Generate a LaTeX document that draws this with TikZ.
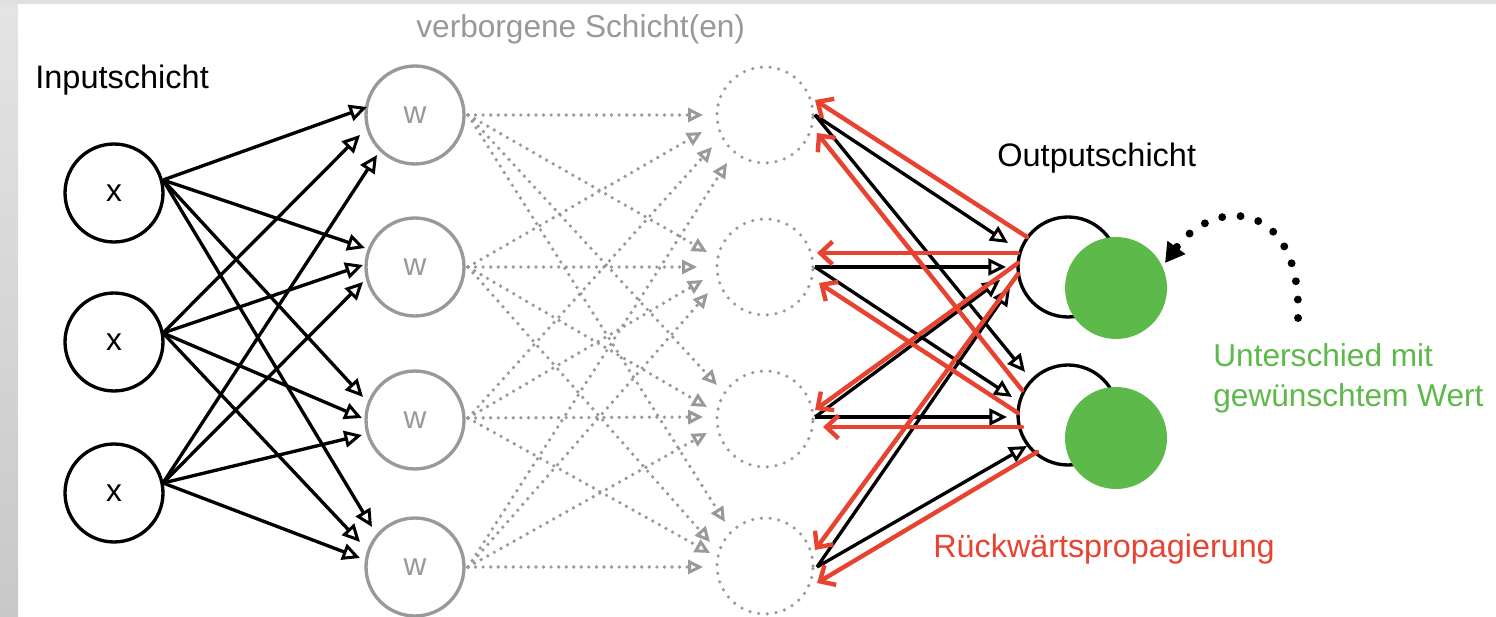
\documentclass[tikz,border=0pt]{standalone}
\usepackage{fontspec}
\setmainfont{Liberation Sans}
\usetikzlibrary{arrows.meta}

\definecolor{redcol}{HTML}{E84330}
\definecolor{greencol}{HTML}{5DB94A}
\definecolor{graycol}{HTML}{999999}

\tikzset{
  lbl/.style={font=\fontsize{18.5}{21}\selectfont, inner sep=0pt, anchor=base west},
  inp/.style={circle, draw=black, line width=1.9pt, minimum size=1.96cm, inner sep=0pt,
              font=\fontsize{18}{20}\selectfont},
  hidw/.style={circle, draw=graycol, text=graycol, line width=1.9pt, minimum size=1.96cm,
               inner sep=0pt, font=\fontsize{18}{20}\selectfont},
  hidd/.style={circle, draw=graycol, line width=2pt, line cap=round,
               dash pattern=on 0pt off 5pt, minimum size=1.92cm, inner sep=0pt},
  outc/.style={circle, draw=black, line width=1.9pt, minimum size=2cm, inner sep=0pt},
  goal/.style={circle, fill=greencol, minimum size=2.04cm, inner sep=0pt},
  fwd/.style={draw=black, line width=1.9pt,
              -{Triangle[open, length=10pt, width=9.5pt, line width=1.7pt]}},
  hid/.style={draw=graycol, line width=2.1pt, line cap=round, dash pattern=on 0pt off 4.3pt,
              -{Triangle[open, length=8.5pt, width=8pt, line width=1.7pt]}},
  back/.style={draw=redcol, line width=2.5pt, line cap=round,
               -{Straight Barb[length=7pt, width=13pt, line width=2.5pt]}},
  diff/.style={draw=black, line width=4.5pt, line cap=round, dash pattern=on 0pt off 10.5pt,
               -{Triangle[length=11pt, width=12pt]}}
}

\begin{document}
\begin{tikzpicture}[x=0.02cm, y=-0.02cm]
  % page and frame
  \useasboundingbox (0,0) rectangle (1496,617);
  \fill[white] (0,0) rectangle (1496,617);
  \shade[top color=gray!21, bottom color=gray!43] (0,0) rectangle (18,617);
  \fill[gray!24] (0,0) rectangle (1496,4);

  % layer titles
  \node[lbl] (tin) at (35,89) {Inputschicht};
  \node[lbl, text=graycol, font=\fontsize{18}{21}\selectfont] (thid) at (416,38) {verborgene Schicht(en)};
  \node[lbl] (tout) at (997,167) {Outputschicht};
  \node[lbl, text=redcol, font=\fontsize{18.4}{21}\selectfont] (tback) at (933,557) {Rückwärtspropagierung};
  \node[lbl, text=greencol, font=\fontsize{18}{20}\selectfont] (tdiff1) at (1213,367) {Unterschied mit};
  \node[lbl, text=greencol, font=\fontsize{18}{20}\selectfont] (tdiff2) at (1213,407) {gewünschtem Wert};

  % input layer
  \node[inp] (in1) at (114,193) {x};
  \node[inp] (in2) at (114,342) {x};
  \node[inp] (in3) at (114,493) {x};

  % first hidden layer
  \node[hidw] (w1) at (415,115) {w};
  \node[hidw] (w2) at (415,267) {w};
  \node[hidw] (w3) at (415,420) {w};
  \node[hidw] (w4) at (415,567) {w};

  % second hidden layer
  \node[hidd] (h1) at (765,115) {};
  \node[hidd] (h2) at (765,267) {};
  \node[hidd] (h3) at (765,419) {};
  \node[hidd] (h4) at (765,566) {};

  % output layer
  \node[outc] (o1) at (1068,267) {};
  \node[outc] (o2) at (1068,415) {};
  \node[goal] (g1) at (1116,288) {};
  \node[goal] (g2) at (1116,438) {};

  % input -> first hidden layer
  \foreach \src/\dy in {in1/-13, in2/-9, in3/-10}
    \coordinate (\src o) at ([shift={(49,\dy)}]\src.center);
  \draw[fwd] (in1o) -- ([shift={(-48,-8)}]w1.center);
  \draw[fwd] (in2o) -- ([shift={(-55,20)}]w1.center);
  \draw[fwd] (in3o) -- ([shift={(-38,40)}]w1.center);
  \draw[fwd] (in1o) -- ([shift={(-50,-19)}]w2.center);
  \draw[fwd] (in2o) -- ([shift={(-52,-2)}]w2.center);
  \draw[fwd] (in3o) -- ([shift={(-52,15)}]w2.center);
  \draw[fwd] (in1o) -- ([shift={(-52,-23)}]w3.center);
  \draw[fwd] (in2o) -- ([shift={(-53,-2)}]w3.center);
  \draw[fwd] (in3o) -- ([shift={(-53,15)}]w3.center);
  \draw[fwd] (in1o) -- ([shift={(-43,-40)}]w4.center);
  \draw[fwd] (in2o) -- ([shift={(-55,-25)}]w4.center);
  \draw[fwd] (in3o) -- ([shift={(-55,-9)}]w4.center);

  % first hidden -> second hidden layer
  \foreach \src/\dy in {w1/0, w2/0, w3/-2, w4/0}
    \coordinate (\src o) at ([shift={(53,\dy)}]\src.center);
  \draw[hid] (w1o) -- ([shift={(-62,0)}]h1.center);
  \draw[hid] (w2o) -- ([shift={(-63,17)}]h1.center);
  \draw[hid] (w3o) -- ([shift={(-53,32)}]h1.center);
  \draw[hid] (w4o) -- ([shift={(-38,48)}]h1.center);
  \draw[hid] (w1o) -- ([shift={(-58,-15)}]h2.center);
  \draw[hid] (w2o) -- ([shift={(-68,0)}]h2.center);
  \draw[hid] (w3o) -- ([shift={(-62,13)}]h2.center);
  \draw[hid] (w4o) -- ([shift={(-57,26)}]h2.center);
  \draw[hid] (w1o) -- ([shift={(-48,-34)}]h3.center);
  \draw[hid] (w2o) -- ([shift={(-58,-12)}]h3.center);
  \draw[hid] (w3o) -- ([shift={(-62,-2)}]h3.center);
  \draw[hid] (w4o) -- ([shift={(-58,14)}]h3.center);
  \draw[hid] (w1o) -- ([shift={(-40,-44)}]h4.center);
  \draw[hid] (w2o) -- ([shift={(-55,-24)}]h4.center);
  \draw[hid] (w3o) -- ([shift={(-55,-13)}]h4.center);
  \draw[hid] (w4o) -- ([shift={(-62,1)}]h4.center);

  % second hidden -> output layer
  \foreach \src/\dx/\dy in {h1/50/0, h2/50/0, h3/50/-2, h4/52/1}
    \coordinate (\src o) at ([shift={(\dx,\dy)}]\src.center);
  \draw[fwd] (h1o) -- ([shift={(-60,-24)}]o1.center);
  \draw[fwd] (h1o) -- ([shift={(-43,-43)}]o2.center);
  \draw[fwd] (h2o) -- ([shift={(-62,0)}]o1.center);
  \draw[fwd] (h2o) -- ([shift={(-56,-18)}]o2.center);
  \draw[fwd] (h3o) -- ([shift={(-68,13)}]o1.center);
  \draw[fwd] (h3o) -- ([shift={(-61,2)}]o2.center);
  \draw[fwd] (h4o) -- ([shift={(-58,21)}]o1.center);
  \draw[fwd] (h4o) -- ([shift={(-41,31)}]o2.center);

  % backpropagation from the output layer
  \draw[back] ([shift={(-41,-30)}]o1.center) -- ([shift={(50,-15)}]h1.center);
  \draw[back] ([shift={(-50,-14)}]o1.center) -- ([shift={(52,-14)}]h2.center);
  \draw[back] ([shift={(-50,-4)}]o1.center) -- ([shift={(50,-9)}]h3.center);
  \draw[back] ([shift={(-50,7)}]o1.center) -- ([shift={(50,-16)}]h4.center);
  \draw[back] ([shift={(-46,-25)}]o2.center) -- ([shift={(52,18)}]h1.center);
  \draw[back] ([shift={(-50,-2)}]o2.center) -- ([shift={(54,16)}]h2.center);
  \draw[back] ([shift={(-46,12)}]o2.center) -- ([shift={(58,8)}]h3.center);
  \draw[back] ([shift={(-31,37)}]o2.center) -- ([shift={(52,17)}]h4.center);

  % error signal pointing at the first output
  \coordinate (dstart) at (1298,318);
  \draw[diff] (dstart) .. controls (1302,200) and (1215,195) .. ([shift={(49,-25)}]g1.center);
\end{tikzpicture}
\end{document}
